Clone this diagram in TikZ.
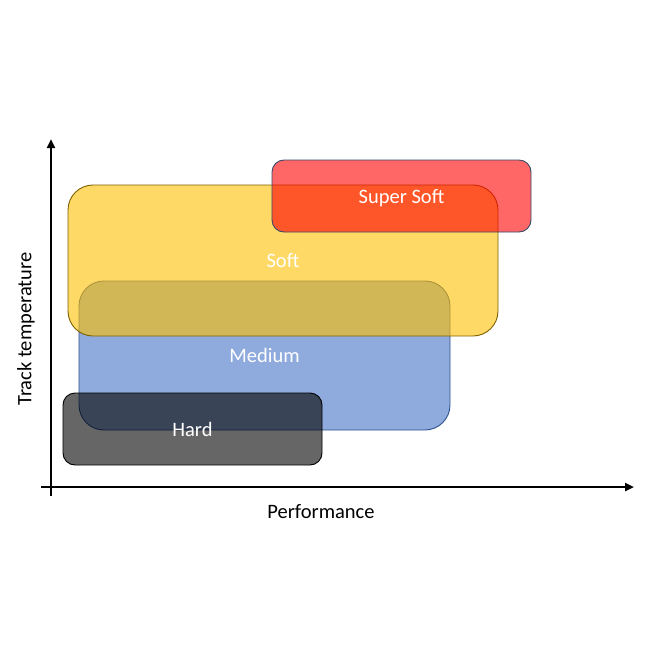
\documentclass[tikz,border=0pt]{standalone}
\usepackage{fontspec}
\setmainfont{Carlito}
\usepackage{tikz}
\usetikzlibrary{arrows.meta,positioning}
\definecolor{superred}{HTML}{FF0000}
\definecolor{superedge}{HTML}{3A4A6B}
\definecolor{softyellow}{HTML}{FFC000}
\definecolor{softedge}{HTML}{7F6000}
\definecolor{mediumblue}{HTML}{4472C4}
\definecolor{bluedge}{HTML}{2F528F}
\tikzset{
  tyrebox/.style={draw,line width=0.9pt,fill opacity=0.6,text opacity=1,text=white,inner sep=0pt,text height=14pt,text depth=0pt,font=\fontsize{20.5}{24}\selectfont},
  axisarrow/.style={-{Triangle[length=9pt,width=8pt]},line width=2.7pt,draw=black},
  axislabel/.style={font=\fontsize{20.5}{24}\selectfont,text=black,inner sep=0pt}
}

\begin{document}
\begin{tikzpicture}[x=1pt,y=-1pt]
  \useasboundingbox (0,0) rectangle (650,650);
  % compounds
  \node[tyrebox,draw=bluedge,fill=mediumblue,minimum width=371pt,minimum height=149pt,rounded corners=25pt] (medium) at (264.5,355.5) {Medium};
  \node[tyrebox,draw=black,fill=black,minimum width=259pt,minimum height=72pt,rounded corners=12pt] (hard) at (192.5,429) {Hard};
  \node[tyrebox,draw=softedge,fill=softyellow,minimum width=430pt,minimum height=151pt,rounded corners=25pt] (soft) at (283,260.5) {Soft};
  \node[tyrebox,draw=superedge,fill=superred,minimum width=259pt,minimum height=72pt,rounded corners=12pt] (supersoft) at (401.5,196) {Super Soft};
  % axes
  \coordinate (yfoot) at (51,496);
  \coordinate (ytop) at (51,139);
  \coordinate (xleft) at (41,487);
  \coordinate (xright) at (634,487);
  \draw[axisarrow] (yfoot) -- (ytop);
  \draw[axisarrow] (xleft) -- (xright);
  \node[axislabel] (perf) at (321,512) {Performance};
  \node[axislabel,rotate=90] (temp) at (26,329) {Track temperature};
\end{tikzpicture}
\end{document}
